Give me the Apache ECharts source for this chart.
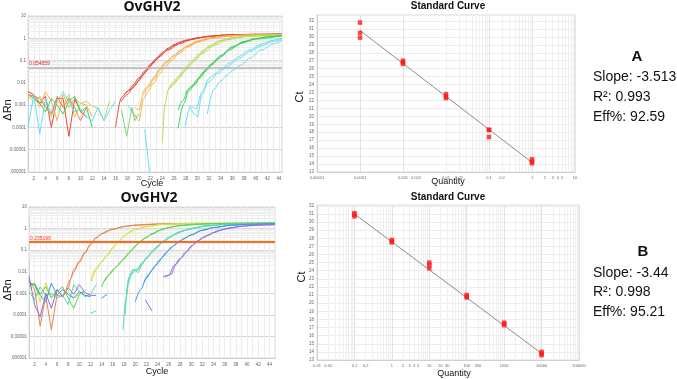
<!DOCTYPE html>
<html>
<head>
<meta charset="utf-8">
<script src="https://cdn.jsdelivr.net/npm/echarts@6/dist/echarts.min.js"></script>
<style>
  html, body { margin: 0; padding: 0; background: #fff; }
  #chart { width: 677px; height: 379px; }
</style>
</head>
<body>
<div id="chart"></div>
<script>
// ---- amplification plot A (cycle, deltaRn) ----
const ampA_red = [
  [[16,0.0001],[17,0.0022],[18,0.004],[19,0.008],[20,0.017],[21,0.034],[22,0.07],[23,0.13],[24,0.23],[25,0.36],[26,0.52],[27,0.68],[28,0.82],[30,1.05],[32,1.25],[35,1.42],[40,1.52],[44.5,1.55]],
  [[17,0.0015],[18,0.003],[19,0.006],[20,0.013],[21,0.028],[22,0.06],[23,0.11],[24,0.2],[25,0.32],[26,0.47],[28,0.78],[30,1.02],[32,1.22],[35,1.4],[40,1.5],[44.5,1.54]],
  [[17.5,0.003],[18.5,0.005],[19.5,0.009],[20.5,0.02],[21.5,0.04],[22.5,0.08],[23.5,0.15],[25,0.3],[27,0.58],[29,0.88],[31,1.12],[34,1.35],[38,1.48],[44.5,1.53]]
]
const ampA_orange = [
  [[19.3,0.0008],[20,0.0006],[20.7,0.003],[21.5,0.006],[22.5,0.014],[23.5,0.035],[24.5,0.07],[25.5,0.13],[27,0.27],[28.5,0.5],[30,0.75],[32,1.02],[35,1.28],[40,1.45],[44.5,1.5]],
  [[19,0.0005],[20,0.0002],[20.8,0.002],[21.5,0.004],[22.5,0.01],[23.5,0.025],[24.5,0.05],[25.5,0.1],[27,0.22],[28.5,0.42],[30,0.66],[32,0.95],[35,1.24],[40,1.43],[44.5,1.49]],
  [[20.5,0.003],[21.5,0.007],[22.5,0.017],[23.5,0.04],[24.5,0.08],[26,0.17],[28,0.4],[30,0.7],[33,1.1],[37,1.38],[44.5,1.5]]
]
const ampA_lime = [
  [[24,0.00002],[24.5,0.0012],[25,0.005],[26,0.009],[27,0.018],[28,0.038],[29,0.075],[30,0.14],[31,0.25],[32,0.4],[34,0.75],[36,1.05],[39,1.3],[44.5,1.45]],
  [[25,0.0047],[26,0.012],[27,0.024],[28,0.05],[29,0.095],[30,0.17],[31,0.29],[32,0.45],[34,0.8],[36,1.08],[40,1.35],[44.5,1.45]],
  [[25.5,0.006],[26.5,0.013],[27.5,0.028],[28.5,0.055],[29.5,0.1],[31,0.22],[33,0.5],[35,0.85],[38,1.2],[44.5,1.43]]
]
const ampA_green = [
  [[26.7,0.0006],[27.5,0.0016],[28.5,0.005],[29.5,0.009],[30.5,0.02],[31.5,0.04],[32.5,0.075],[34,0.17],[36,0.42],[38,0.72],[40,0.98],[42,1.18],[44.5,1.33]],
  [[26.7,0.00009],[27.7,0.0012],[28.5,0.004],[29.5,0.008],[30.5,0.017],[31.5,0.034],[32.5,0.065],[34,0.15],[36,0.38],[38,0.68],[40,0.95],[42,1.15],[44.5,1.32]],
  [[28,0.0035],[29,0.007],[30,0.014],[31,0.03],[32,0.055],[33.5,0.12],[35.5,0.3],[37.5,0.6],[40,0.92],[44.5,1.3]]
]
const ampA_cyan = [
  [[28.8,0.0008],[29.5,0.0004],[30,0.0003],[30.8,0.003],[31.9,0.015],[33,0.025],[34,0.04],[35.5,0.075],[37,0.15],[39,0.3],[41,0.55],[43,0.82],[44.5,1.0]],
  [[31.7,0.0004],[32.8,0.005],[34,0.012],[35,0.021],[36,0.035],[37.3,0.06],[39,0.13],[41,0.3],[43,0.56],[44.5,0.8]],
  [[27.9,0.0001],[28.8,0.0009],[29.8,0.0007],[30.8,0.004],[32,0.011],[33.5,0.026],[35,0.05],[37,0.12],[39,0.25],[41,0.46],[43,0.72],[44.5,0.9]]
]
// baseline noise, same colour order as above
const ampA_noise = [
  [[1,0.004],[2,0.003],[3,0.0012],[4,0.0025],[5,0.0001],[6,0.002],[7,0.002],[8,0.00004],[9,0.002],[10,0.0005],[11,0.0003]],
  [[1,0.002],[2,0.003],[3,0.0008],[4,0.004],[5,0.0015],[6,0.0002],[7,0.003],[8,0.0008],[9,0.002],[10,0.0012],[11,0.001],[12,0.0003]],
  [[1,0.0025],[2,0.0015],[3,0.0025],[4,0.001],[5,0.0003],[6,0.0015],[7,0.001],[8,0.003],[9,0.0003],[10,0.0012],[11,0.0015],[12,0.0009],[13,0.0007],[14,0.0002],[15,0.0015]],
  [[1,0.003],[2,0.002],[3,0.0012],[4,0.0005],[5,0.002],[6,0.001],[7,0.0004],[8,0.0015],[9,0.0025],[10,0.0005],[11,0.0008],[12,0.0001]],
  [[1,0.0001],[2,0.003],[3,0.00005],[4,0.002],[5,0.0004],[6,0.0015],[7,0.004],[8,0.0015],[9,0.0005],[10,0.0007],[11,0.0003],[12,0.0002],[13,0.0008],[14,0.0002],[15,0.0006],[16,0.0015]]
]
const ampA_noise2 = [[1,0.003],[2,0.0025],[3,0.002],[4,0.0008],[5,0.0004],[6,0.0025],[7,0.0008],[8,0.002],[9,0.0008],[10,0.0002],[11,0.0008]]
const ampA_bits = [
  [[18.2,0.0009],[19,0.0004],[19.7,0.0003]],
  [[21,0.00008],[21.8,0.000001]],
  [[17,0.0006],[17.9,0.00004],[18.8,0.0008],[19.3,0.0002],[20,0.0004]]
]
const ampA_bitColors = ['#62dff0', '#62dff0', '#7fd67a']
const thresholdA = 0.054659

// ---- amplification plot B ----
const ampB_orange = [
  [[7,0.0007],[8,0.0016],[8.5,0.005],[9,0.012],[10,0.03],[11,0.08],[12,0.19],[13,0.38],[14,0.58],[15,0.78],[16,0.95],[18,1.25],[20,1.45],[23,1.6],[28,1.68],[35,1.72],[45,1.75]],
  [[7.5,0.001],[8.3,0.004],[9,0.01],[10,0.027],[11,0.072],[12,0.18],[13,0.36],[14,0.56],[16,0.93],[18,1.23],[20,1.43],[25,1.65],[35,1.72],[45,1.75]]
]
const ampB_yellow = [
  [[12,0.004],[13,0.015],[14,0.03],[15,0.06],[16,0.13],[17,0.25],[18,0.45],[19,0.7],[20,0.92],[22,1.28],[25,1.58],[30,1.75],[45,1.8]],
  [[12.2,0.0035],[13.1,0.013],[14,0.028],[15,0.057],[16,0.125],[17,0.24],[18,0.43],[19,0.68],[20,0.9],[22,1.25],[25,1.55],[30,1.73],[45,1.8]]
]
const ampB_green = [
  [[14,0.002],[15,0.006],[16,0.012],[17,0.021],[18,0.04],[19,0.08],[20,0.15],[21,0.26],[22,0.4],[23,0.58],[24,0.78],[26,1.12],[28,1.38],[32,1.63],[38,1.75],[45,1.8]],
  [[14.5,0.0035],[15.5,0.008],[16.5,0.016],[17.5,0.03],[18.5,0.058],[19.5,0.11],[20.5,0.2],[21.5,0.33],[23,0.55],[25,0.95],[27,1.28],[30,1.55],[36,1.73],[45,1.8]]
]
const ampB_teal = [
  [[17.8,0.00002],[18.3,0.0005],[18.8,0.005],[19.5,0.012],[20.3,0.011],[21,0.02],[22,0.04],[23,0.08],[24,0.15],[25,0.26],[26,0.38],[28,0.7],[30,1.0],[33,1.35],[36,1.55],[40,1.68],[45,1.75]],
  [[18.5,0.0008],[19,0.006],[19.8,0.013],[20.5,0.009],[21.2,0.022],[22,0.042],[23,0.085],[24,0.16],[25,0.27],[26,0.4],[28,0.72],[30,1.02],[33,1.37],[37,1.6],[45,1.75]],
  [[18.2,0.0001],[18.7,0.003],[19.4,0.008],[20.4,0.014],[21.2,0.026],[22.2,0.05],[23.5,0.11],[25,0.24],[27,0.52],[29,0.85],[32,1.25],[36,1.55],[45,1.75]]
]
const ampB_blue = [
  [[20,0.0004],[21,0.0015],[22,0.005],[23,0.012],[24,0.025],[25,0.05],[26,0.1],[27,0.17],[28,0.26],[29,0.38],[30,0.52],[32,0.85],[34,1.12],[37,1.42],[40,1.58],[45,1.68]],
  [[21.5,0.003],[22.5,0.008],[23.5,0.018],[24.5,0.038],[25.5,0.075],[26.5,0.14],[27.5,0.22],[28.5,0.32],[30,0.5],[32,0.83],[34,1.1],[37,1.4],[41,1.6],[45,1.68]]
]
const ampB_purple = [
  [[25,0.006],[26,0.0068],[27,0.02],[28,0.04],[29,0.08],[30,0.15],[31,0.25],[32,0.37],[33,0.5],[35,0.82],[37,1.1],[40,1.35],[43,1.48],[45,1.52]],
  [[25.3,0.0055],[26.4,0.0075],[27.3,0.022],[28.3,0.045],[29.3,0.09],[30.3,0.17],[31.3,0.28],[32.5,0.43],[34,0.65],[36,0.95],[39,1.28],[42,1.45],[45,1.52]]
]
const ampB_noise = [
  [[1,0.004],[2,0.0015],[3,0.00003],[4,0.0008],[5,0.00002],[6,0.0008],[7,0.0007]],
  [[1,0.0015],[2,0.0025],[3,0.0004],[4,0.003],[5,0.0007],[6,0.0015],[7,0.0008],[8,0.0012],[9,0.0006],[10,0.0009],[11,0.0015]],
  [[1,0.002],[2,0.003],[3,0.0009],[4,0.002],[5,0.0006],[6,0.0012],[7,0.002],[8,0.0006],[9,0.0002],[10,0.0009],[11,0.0012]],
  [[1,0.0012],[2,0.0005],[3,0.002],[4,0.0008],[5,0.001],[6,0.0006],[7,0.0008],[8,0.0003],[9,0.0025],[10,0.0012],[11,0.0007],[12,0.0009],[13,0.0025]],
  [[1,0.003],[2,0.0025],[3,0.0008],[4,0.0004],[5,0.003],[6,0.0008],[7,0.0015],[8,0.0009],[9,0.0006],[10,0.0012],[11,0.0008],[12,0.0007]],
  [[1,0.006],[2,0.0003],[3,0.00008],[4,0.001],[5,0.0002],[6,0.0015],[7,0.0007],[8,0.0018],[9,0.0009],[10,0.0025],[11,0.0011],[12,0.0008],[13,0.0008]]
]
const ampB_bits = [
  [[21.8,0.0005],[23,0.00015]],
  [[14,0.0006],[15,0.0009]],
  [[12,0.00012],[13,0.00015]]
]
const ampB_bitColors = ['#8a6fe6', '#3b9be6', '#55dcb0']
const thresholdB = 0.235199

const ampYLabels = ['.000001', '0.00001', '0.0001', '0.001', '0.01', '0.1', '1', '10']

// ---- standard curves ----
const stdA_qty = [0.0001, 0.001, 0.01, 0.1, 1]
const stdA_ct = [[31.8, 30.5, 29.9], [27.0, 26.8, 26.6], [22.8, 22.5, 22.3], [18.3, 18.3, 17.4], [14.6, 14.3, 14.1]]
const stdA_fit = [[0.0001, 30.8], [1, 14.2]]
const stdA_ticks = [0.00001, 0.0001, 0.001, 0.002, 0.01, 0.02, 0.1, 0.2, 1, 2, 3, 4, 5, 10]

const stdB_qty = [0.1, 1, 10, 100, 1000, 10000]
const stdB_ct = [[31.1, 30.9, 30.7], [27.8, 27.6, 27.5], [25.0, 24.7, 24.3], [21.0, 20.85, 20.7], [17.6, 17.45, 17.3], [14.0, 13.8, 13.6]]
const stdB_fit = [[0.1, 31.0], [10000, 13.8]]
const stdB_ticks = [0.01, 0.02, 0.1, 0.2, 1, 2, 3, 4, 5, 10, 20, 30, 100, 200, 1000, 10000, 100000]

const statsA = ['Slope: -3.513', 'R²: 0.993', 'Eff%: 92.59']
const statsB = ['Slope: -3.44', 'R²: 0.998', 'Eff%: 95.21']

// ---------------------------------------------------------------
const chart = echarts.init(document.getElementById('chart'), null, { renderer: 'canvas' })

const tickFont = { fontSize: 4.5, color: '#666', fontFamily: 'Liberation Sans' }

function curve(data, color, idx, smooth) {
  return {
    type: 'line', xAxisIndex: idx, yAxisIndex: idx, data: data,
    symbol: 'none', smooth: smooth ? 0.3 : false, smoothMonotone: 'x',
    lineStyle: { width: 1, color: color }, itemStyle: { color: color },
    silent: true, animation: false, z: 3
  }
}

// light grid decorations at 2..9 of each decade
function minorLines(lo, hi, key) {
  const out = []
  for (let p = lo; p < hi; p++) {
    for (let k = 2; k <= 9; k++) {
      const o = {}
      o[key] = +(k * Math.pow(10, p)).toPrecision(3)
      out.push(o)
    }
  }
  return out
}

function gridHolder(idx, lines, color) {
  return {
    type: 'line', xAxisIndex: idx, yAxisIndex: idx, data: [], silent: true, animation: false, z: 1,
    markLine: {
      z: 1, silent: true, symbol: 'none', animation: false, label: { show: false },
      lineStyle: { color: color, width: 1, type: 'solid' }, data: lines
    }
  }
}

function threshold(idx, val, color, labelColor, width) {
  return {
    type: 'line', xAxisIndex: idx, yAxisIndex: idx, data: [], silent: true, animation: false, z: 5,
    markLine: {
      silent: true, symbol: 'none', animation: false,
      lineStyle: { color: color, width: width, type: 'solid' },
      label: { show: true, position: 'insideStartTop', formatter: String(val), color: labelColor, fontSize: 5, distance: [1, 1], fontFamily: 'Liberation Sans' },
      data: [{ yAxis: val }]
    }
  }
}

function stdPoints(qty, ct) {
  const pts = []
  qty.forEach((q, i) => ct[i].forEach(c => pts.push([q, c])))
  return pts
}

const ampColorsA = ['#e8453c', '#f2b34a', '#b5dd4e', '#3fcf5f', '#62dff0']
const ampColorsB = ['#e8844c', '#d6e23a', '#5bd24a', '#55dcb0', '#3b9be6', '#8a6fe6']

const series = []
series.push(gridHolder(0, minorLines(-6, 1, 'yAxis'), '#eeeeee'))
series.push(gridHolder(2, minorLines(-6, 1, 'yAxis'), '#eeeeee'))
series.push(gridHolder(1, minorLines(-5, 1, 'xAxis'), '#efefef'))
series.push(gridHolder(3, minorLines(-2, 5, 'xAxis'), '#efefef'))

// A
ampA_noise.forEach((d, i) => series.push(curve(d, ampColorsA[i], 0, false)))
series.push(curve(ampA_noise2, '#ef7d62', 0, false))
ampA_bits.forEach((d, i) => series.push(curve(d, ampA_bitColors[i], 0, false)))
const groupsA = [ampA_red, ampA_orange, ampA_lime, ampA_green, ampA_cyan]
groupsA.forEach((g, i) => g.forEach(d => series.push(curve(d, ampColorsA[i], 0, true))))
series.push(threshold(0, thresholdA, '#b3b3b3', '#e02020', 1.6))

// B
ampB_noise.forEach((d, i) => series.push(curve(d, ampColorsB[i], 2, false)))
ampB_bits.forEach((d, i) => series.push(curve(d, ampB_bitColors[i], 2, false)))
const groupsB = [ampB_orange, ampB_yellow, ampB_green, ampB_teal, ampB_blue, ampB_purple]
groupsB.forEach((g, i) => g.forEach(d => series.push(curve(d, ampColorsB[i], 2, true))))
series.push(threshold(2, thresholdB, '#ff6a1a', '#ff3a1a', 2))

// standard curves
series.push({ type: 'line', xAxisIndex: 1, yAxisIndex: 1, data: stdA_fit, symbol: 'none', lineStyle: { color: '#707070', width: 0.8 }, silent: true, animation: false, z: 3 })
series.push({ type: 'scatter', xAxisIndex: 1, yAxisIndex: 1, data: stdPoints(stdA_qty, stdA_ct), symbol: 'rect', symbolSize: 4.5, itemStyle: { color: '#ff1a1a' }, silent: true, animation: false, z: 4 })
series.push({ type: 'line', xAxisIndex: 3, yAxisIndex: 3, data: stdB_fit, symbol: 'none', lineStyle: { color: '#707070', width: 0.8 }, silent: true, animation: false, z: 3 })
series.push({ type: 'scatter', xAxisIndex: 3, yAxisIndex: 3, data: stdPoints(stdB_qty, stdB_ct), symbol: 'rect', symbolSize: 4.5, itemStyle: { color: '#ff1a1a' }, silent: true, animation: false, z: 4 })

function ampX(max) {
  return {
    type: 'value', min: 1, max: max, interval: 1,
    axisLine: { show: true, lineStyle: { color: '#cfcfcf' } },
    axisTick: { show: false },
    axisLabel: Object.assign({ margin: 4, formatter: v => (v % 2 === 0 ? String(v) : '') }, tickFont),
    splitLine: { show: true, lineStyle: { color: '#ececec', width: 1 } }
  }
}
function ampY() {
  return {
    type: 'log', logBase: 10, min: 0.000001, max: 10,
    axisLine: { show: true, lineStyle: { color: '#cfcfcf' } },
    axisTick: { show: false },
    axisLabel: Object.assign({ margin: 2, formatter: v => ampYLabels[Math.round(Math.log10(v)) + 6] }, tickFont),
    splitLine: { show: true, lineStyle: { color: '#d6d6d6', width: 1 } }
  }
}
function stdX(min, max, ticks) {
  return {
    type: 'log', logBase: 10, min: min, max: max,
    axisLine: { show: true, lineStyle: { color: '#d0d0d0' } },
    axisTick: { show: false },
    axisLabel: Object.assign({ margin: 4, customValues: ticks, formatter: v => String(v) }, tickFont, { fontSize: 4 }),
    splitLine: { show: true, lineStyle: { color: '#e2e2e2', width: 1 } }
  }
}
function stdY(max) {
  return {
    type: 'value', min: 13, max: max, interval: 1,
    axisLine: { show: true, lineStyle: { color: '#d0d0d0' } },
    axisTick: { show: false },
    axisLabel: Object.assign({ margin: 3, formatter: v => (Number.isInteger(v) ? String(v) : '') }, tickFont),
    splitLine: { show: true, lineStyle: { color: '#ececec', width: 1 } }
  }
}

function txt(x, y, text, size, weight, family, extra) {
  return Object.assign({
    type: 'text', x: x, y: y, silent: true,
    style: {
      text: text, fill: '#111', font: weight + ' ' + size + 'px "' + family + '"',
      align: 'center', verticalAlign: 'middle', textAlign: 'center', textVerticalAlign: 'middle'
    }
  }, extra || {})
}
function leftTxt(x, y, text) {
  const t = txt(x, y, text, 14, 'normal', 'Liberation Sans')
  t.style.align = 'left'; t.style.textAlign = 'left'
  return t
}

const graphics = [
  txt(152, 7, 'OvGHV2', 14, 'bold', 'Open Sans'),
  txt(149, 198.5, 'OvGHV2', 14, 'bold', 'Open Sans'),
  txt(448, 6, 'Standard Curve', 10, 'bold', 'Liberation Sans'),
  txt(448, 197.5, 'Standard Curve', 10, 'bold', 'Liberation Sans'),
  txt(152, 183.5, 'Cycle', 9, 'normal', 'Liberation Sans'),
  txt(157, 372, 'Cycle', 9, 'normal', 'Liberation Sans'),
  txt(448, 182, 'Quantity', 9, 'normal', 'Liberation Sans'),
  txt(454, 374, 'Quantity', 9, 'normal', 'Liberation Sans'),
  txt(8, 110, 'ΔRn', 11, 'normal', 'Liberation Sans', { rotation: Math.PI / 2 }),
  txt(8, 290, 'ΔRn', 11, 'normal', 'Liberation Sans', { rotation: Math.PI / 2 }),
  txt(300, 97, 'Ct', 11, 'normal', 'Liberation Sans', { rotation: Math.PI / 2 }),
  txt(302, 277, 'Ct', 11, 'normal', 'Liberation Sans', { rotation: Math.PI / 2 }),
  txt(637, 57, 'A', 15, 'bold', 'Liberation Sans'),
  txt(643, 252, 'B', 15, 'bold', 'Liberation Sans')
]
statsA.forEach((s, i) => graphics.push(leftTxt(593, 77 + i * 20, s)))
statsB.forEach((s, i) => graphics.push(leftTxt(593, 273 + i * 19.5, s)))

const gridBase = { show: true, borderColor: '#dadada', borderWidth: 1, backgroundColor: '#fff', containLabel: false, outerBoundsMode: 'none' }

chart.setOption({
  animation: false,
  backgroundColor: '#fff',
  grid: [
    Object.assign({ left: 28, top: 16, width: 254, height: 156 }, gridBase),
    Object.assign({ left: 317, top: 15, width: 258, height: 157 }, gridBase),
    Object.assign({ left: 29, top: 207, width: 246, height: 151 }, gridBase),
    Object.assign({ left: 317, top: 205, width: 262, height: 155 }, gridBase)
  ],
  xAxis: [
    Object.assign(ampX(44.5), { gridIndex: 0 }),
    Object.assign(stdX(0.00001, 10, stdA_ticks), { gridIndex: 1 }),
    Object.assign(ampX(45), { gridIndex: 2 }),
    Object.assign(stdX(0.01, 100000, stdB_ticks), { gridIndex: 3 })
  ],
  yAxis: [
    Object.assign(ampY(), { gridIndex: 0 }),
    Object.assign(stdY(32.75), { gridIndex: 1 }),
    Object.assign(ampY(), { gridIndex: 2 }),
    Object.assign(stdY(32.1), { gridIndex: 3 })
  ],
  graphic: graphics,
  series: series
})
</script>
</body>
</html>
